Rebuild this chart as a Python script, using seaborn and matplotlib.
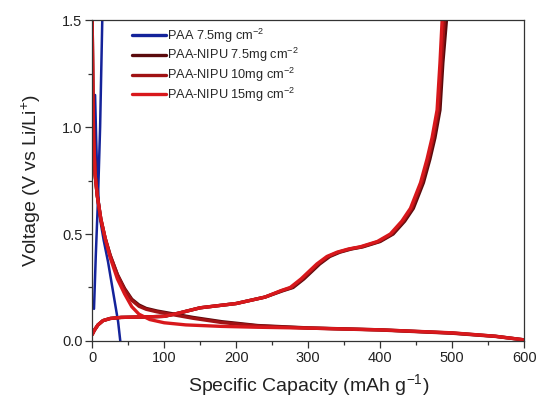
import numpy as np
import pandas as pd
import matplotlib
matplotlib.use("Agg")
import matplotlib.pyplot as plt
from matplotlib.lines import Line2D
import seaborn as sns
from matplotlib.ticker import MultipleLocator, FormatStrFormatter

sns.set_theme(style="white")
plt.rcParams["font.family"] = ["Liberation Sans", "DejaVu Sans"]
plt.rcParams["mathtext.fontset"] = "custom"
plt.rcParams["mathtext.rm"] = "Liberation Sans"
plt.rcParams["mathtext.it"] = "Liberation Sans:italic"

series_names = [
    "PAA 7.5mg cm$^{-2}$",
    "PAA-NIPU 7.5mg cm$^{-2}$",
    "PAA-NIPU 10mg cm$^{-2}$",
    "PAA-NIPU 15mg cm$^{-2}$",
]
series_colors = ["#14239a", "#5a0a0c", "#a01214", "#d8181c"]

# PAA 7.5 mg cm-2
paa_dis_cap = [4, 5.5, 7.5, 11, 16, 22, 30, 36, 39]
paa_dis_v = [1.15, 0.95, 0.72, 0.57, 0.47, 0.37, 0.21, 0.09, 0.0]
paa_chg_cap = [2.5, 5, 8, 11, 14]
paa_chg_v = [0.15, 0.40, 0.66, 1.0, 1.5]

# PAA-NIPU 7.5 mg cm-2
n75_dis_cap = [0, 1, 2, 4, 7, 12, 18, 25, 35, 45, 55, 65, 75, 90, 110, 140, 180, 230, 300, 400, 500, 560, 600]
n75_dis_v = [1.5, 1.15, 0.95, 0.78, 0.68, 0.57, 0.48, 0.40, 0.31, 0.245, 0.195, 0.168, 0.152, 0.14, 0.128, 0.11, 0.09, 0.072, 0.061, 0.052, 0.037, 0.022, 0.005]
n75_chg_cap = [0, 3, 8, 15, 25, 40, 70, 100, 120, 150, 200, 240, 265, 279, 294, 316, 330, 344, 360, 376, 400, 418, 434, 446, 460, 469, 476, 483, 487, 492]
n75_chg_v = [0.03, 0.05, 0.075, 0.095, 0.105, 0.11, 0.112, 0.115, 0.13, 0.155, 0.175, 0.205, 0.235, 0.25, 0.29, 0.36, 0.395, 0.415, 0.43, 0.44, 0.465, 0.50, 0.56, 0.62, 0.74, 0.85, 0.95, 1.08, 1.3, 1.5]

# PAA-NIPU 10 mg cm-2
n10_dis_cap = [0, 1, 2, 4, 7, 12, 18, 25, 35, 45, 55, 65, 75, 90, 110, 140, 180, 230, 300, 400, 500, 560, 600]
n10_dis_v = [1.5, 1.15, 0.95, 0.78, 0.68, 0.57, 0.48, 0.40, 0.31, 0.24, 0.19, 0.162, 0.148, 0.136, 0.124, 0.106, 0.086, 0.07, 0.06, 0.051, 0.036, 0.021, 0.005]
n10_chg_cap = [0, 3, 8, 15, 25, 40, 70, 100, 120, 150, 200, 240, 263, 277, 292, 314, 328, 342, 358, 374, 398, 416, 432, 444, 458, 467, 474, 481, 485, 489]
n10_chg_v = [0.03, 0.05, 0.075, 0.095, 0.105, 0.11, 0.112, 0.115, 0.13, 0.155, 0.175, 0.205, 0.235, 0.25, 0.29, 0.36, 0.395, 0.415, 0.43, 0.44, 0.465, 0.50, 0.56, 0.62, 0.74, 0.85, 0.95, 1.08, 1.3, 1.5]

# PAA-NIPU 15 mg cm-2
n15_dis_cap = [0, 1, 2, 4, 7, 12, 18, 25, 35, 45, 55, 65, 80, 100, 130, 180, 230, 300, 400, 500, 560, 600]
n15_dis_v = [1.5, 1.15, 0.95, 0.78, 0.68, 0.57, 0.48, 0.39, 0.29, 0.22, 0.16, 0.125, 0.10, 0.085, 0.075, 0.068, 0.064, 0.06, 0.052, 0.038, 0.022, 0.005]
n15_chg_cap = [0, 3, 8, 15, 25, 40, 70, 100, 120, 150, 200, 240, 262, 275, 290, 312, 326, 340, 356, 372, 396, 414, 430, 442, 456, 465, 472, 479, 483, 486]
n15_chg_v = [0.03, 0.05, 0.075, 0.095, 0.105, 0.11, 0.112, 0.115, 0.13, 0.155, 0.175, 0.205, 0.235, 0.25, 0.29, 0.36, 0.395, 0.415, 0.43, 0.44, 0.465, 0.50, 0.56, 0.62, 0.74, 0.85, 0.95, 1.08, 1.3, 1.5]

curves = [
    (series_names[0], "discharge", paa_dis_cap, paa_dis_v),
    (series_names[0], "charge", paa_chg_cap, paa_chg_v),
    (series_names[1], "discharge", n75_dis_cap, n75_dis_v),
    (series_names[1], "charge", n75_chg_cap, n75_chg_v),
    (series_names[2], "discharge", n10_dis_cap, n10_dis_v),
    (series_names[2], "charge", n10_chg_cap, n10_chg_v),
    (series_names[3], "discharge", n15_dis_cap, n15_dis_v),
    (series_names[3], "charge", n15_chg_cap, n15_chg_v),
]
frames = []
for name, branch, cap, volt in curves:
    frames.append(pd.DataFrame({"capacity": cap, "voltage": volt,
                                "series": name, "branch": branch}))
df = pd.concat(frames, ignore_index=True)

fig = plt.figure(figsize=(5.36, 4.03), dpi=100)
ax = fig.add_axes([0.172, 0.154, 0.806, 0.796])

widths = [1.8, 2.4, 2.4, 2.4]
for name, color, lw in zip(series_names, series_colors, widths):
    sub = df[df["series"] == name]
    sns.lineplot(data=sub, x="capacity", y="voltage", units="branch",
                 estimator=None, sort=False, color=color, lw=lw, ax=ax,
                 legend=False)

ax.set_xlim(0, 600)
ax.set_ylim(0, 1.5)
ax.xaxis.set_major_locator(MultipleLocator(100))
ax.xaxis.set_minor_locator(MultipleLocator(50))
ax.yaxis.set_major_locator(MultipleLocator(0.5))
ax.yaxis.set_minor_locator(MultipleLocator(0.25))
ax.yaxis.set_major_formatter(FormatStrFormatter("%.1f"))

ax.tick_params(axis="both", which="major", direction="out", length=5, width=0.9,
               colors="#333333", labelsize=10.5, labelcolor="#222222",
               bottom=True, left=True, pad=2)
ax.tick_params(axis="both", which="minor", direction="out", length=3, width=0.9,
               colors="#333333", bottom=True, left=True)
for sp in ax.spines.values():
    sp.set_color("#333333")
    sp.set_linewidth(0.9)

ax.set_xlabel("Specific Capacity (mAh g$^{-1}$)", fontsize=14, color="#222222", labelpad=5)
ax.set_ylabel("Voltage (V vs Li/Li$^{+}$)", fontsize=14, color="#222222", labelpad=14)

handles = [Line2D([], [], color=c, lw=2.4) for c in series_colors]
ax.legend(handles, series_names, loc="upper left", bbox_to_anchor=(0.078, 1.0),
          frameon=False, fontsize=9.2, handlelength=2.6, handletextpad=0.15,
          labelspacing=0.12, borderpad=0)

fig.savefig("out.png", dpi=100)
